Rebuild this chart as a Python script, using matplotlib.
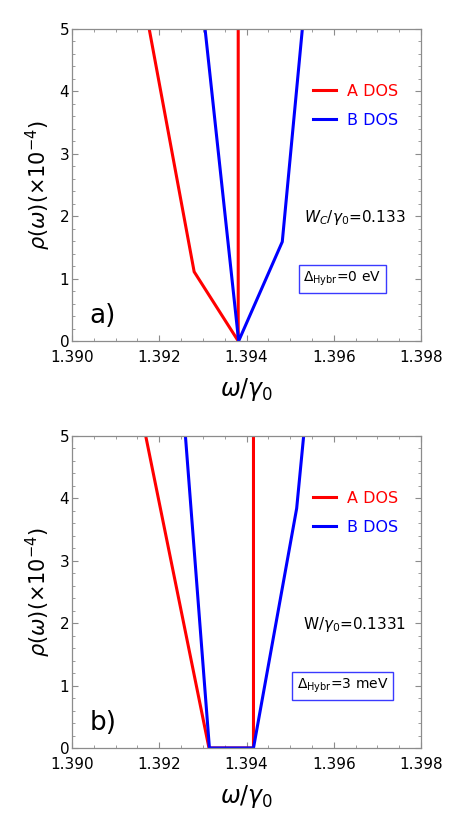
import matplotlib

matplotlib.use("Agg")

import matplotlib.pyplot as plt
from matplotlib.ticker import MultipleLocator, FormatStrFormatter

# panel a) Delta_Hybr = 0 eV
a_dos_x_top = [1.39177, 1.39280, 1.39381, 1.39381]
a_dos_y_top = [5.0, 1.11, 0.0, 5.0]
b_dos_x_top = [1.39305, 1.39382, 1.39482, 1.39528]
b_dos_y_top = [5.0, 0.0, 1.59, 5.0]

# panel b) Delta_Hybr = 3 meV
a_dos_x_bot = [1.39169, 1.39314, 1.39416, 1.39416]
a_dos_y_bot = [5.0, 0.0, 0.0, 5.0]
b_dos_x_bot = [1.39260, 1.39315, 1.39416, 1.39515, 1.39531]
b_dos_y_bot = [5.0, 0.0, 0.0, 3.84, 5.0]

x_ticks = [1.390, 1.392, 1.394, 1.396, 1.398]
y_ticks = [0, 1, 2, 3, 4, 5]

panels = [
    {
        "a": (a_dos_x_top, a_dos_y_top),
        "b": (b_dos_x_top, b_dos_y_top),
        "tag": "a)",
        "param": r"$W_C/\gamma_0$=0.133",
        "hybr": r"$\Delta_{\mathrm{Hybr}}$=0 eV",
    },
    {
        "a": (a_dos_x_bot, a_dos_y_bot),
        "b": (b_dos_x_bot, b_dos_y_bot),
        "tag": "b)",
        "param": r"W/$\gamma_0$=0.1331",
        "hybr": r"$\Delta_{\mathrm{Hybr}}$=3 meV",
    },
]

plt.rcParams.update({"mathtext.fontset": "dejavusans"})

fig = plt.figure(figsize=(4.61, 8.27), dpi=100)
axes_rects = [
    (72 / 461, 1 - 341 / 827, 349 / 461, 312 / 827),
    (72 / 461, 1 - 748 / 827, 349 / 461, 312 / 827),
]

spine_color = "#8c8c8c"

for rect, panel in zip(axes_rects, panels):
    ax = fig.add_axes(rect)
    ax.plot(*panel["a"], color="#ff0000", linewidth=2.2, label="A DOS", solid_joinstyle="miter")
    ax.plot(*panel["b"], color="#0000ff", linewidth=2.2, label="B DOS", solid_joinstyle="miter")

    ax.set_xlim(1.390, 1.398)
    ax.set_ylim(0, 5)
    ax.set_xticks(x_ticks)
    ax.set_yticks(y_ticks)
    ax.xaxis.set_major_formatter(FormatStrFormatter("%.3f"))
    ax.xaxis.set_minor_locator(MultipleLocator(0.0005))
    ax.yaxis.set_minor_locator(MultipleLocator(0.2))
    ax.tick_params(which="both", direction="in", top=True, right=True,
                   color=spine_color, labelsize=11)
    ax.tick_params(axis="x", pad=6.5)
    ax.tick_params(axis="y", pad=2)
    ax.tick_params(which="major", length=4, width=0.8)
    ax.tick_params(which="minor", length=2.5, width=0.6)
    for spine in ax.spines.values():
        spine.set_color(spine_color)
        spine.set_linewidth(0.9)

    ax.set_xlabel(r"$\omega/\gamma_0$", fontsize=17, labelpad=8)
    ax.set_ylabel(r"$\rho(\omega)(\times10^{-4})$", fontsize=15, labelpad=5)

    ax.legend(loc="upper left", bbox_to_anchor=(0.65, 0.87), frameon=False,
              fontsize=11.5, handlelength=1.4, handletextpad=0.7,
              labelspacing=0.85, labelcolor="linecolor")

    ax.text(0.05, 0.08, panel["tag"], transform=ax.transAxes,
            fontsize=19, ha="left", va="center")
    ax.text(0.81, 0.397, panel["param"], transform=ax.transAxes,
            fontsize=11, ha="center", va="center")
    ax.text(0.775, 0.198, panel["hybr"], transform=ax.transAxes,
            fontsize=10, ha="center", va="center",
            bbox=dict(boxstyle="square,pad=0.35", facecolor="white",
                      edgecolor="#3a3aff", linewidth=1.0))

fig.savefig("out.png", dpi=100)
